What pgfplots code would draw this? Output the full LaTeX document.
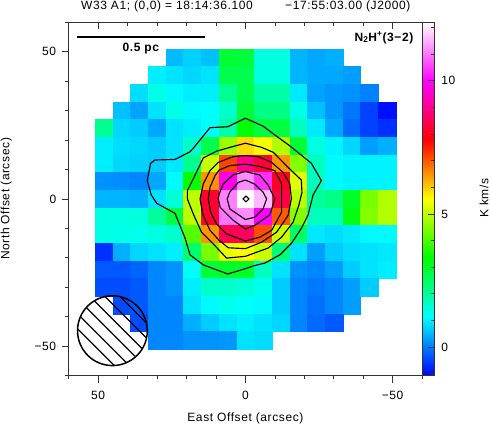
\documentclass[border=0pt]{standalone}
\usepackage{fontspec}
\setmainfont[LetterSpace=5]{Liberation Sans}
\usepackage{pgfplots}
\pgfplotsset{compat=1.18}

\newcommand{\lbl}{\fontsize{12bp}{13bp}\selectfont}

\begin{document}
\begin{tikzpicture}
\useasboundingbox (0,0) rectangle (491bp,425bp);
\begin{axis}[
  at={(68.7bp,49.4bp)}, anchor=south west,
  scale only axis, width=353.4bp, height=353.4bp,
  x dir=reverse,
  xmin=-60, xmax=60, ymin=-60, ymax=60,
  xtick={-50,0,50}, xticklabels={−50,0,50},
  ytick={-50,0,50}, yticklabels={−50,0,50},
  minor xtick={-60,-40,-30,-20,-10,10,20,30,40,60},
  minor ytick={-60,-40,-30,-20,-10,10,20,30,40,60},
  xtick pos=lower, ytick pos=left, tick align=outside,
  major tick length=7bp, minor tick length=3.5bp,
  axis line style={line width=.9bp,black!80},
  every tick/.append style={line width=.7bp,black!80},
  tick label style={font=\lbl},
  xticklabel style={yshift=-5bp},
  yticklabel style={xshift=-2bp},
  label style={font=\lbl},
  xlabel={East Offset (arcsec)},
  ylabel={North Offset (arcsec)},
  xlabel style={yshift=-6bp},
  ylabel style={yshift=16bp},
  colormap={gildas}{rgb=(0,0,1) rgb=(0,1,1) rgb=(0,1,0) rgb=(1,1,0) rgb=(1,0,0) rgb=(1,0,1) rgb=(1,1,1)},
  colormap name=gildas,
  point meta min=-1.07, point meta max=12.2,
  colorbar,
  colorbar shift/.style={xshift=0pt},
  colorbar style={
    at={(parent axis.north east)}, anchor=north west,
    width=12.8bp,
    ytick={0,5,10}, yticklabels={0,5,10},
    minor ytick={-1,1,2,3,4,6,7,8,9,11,12},
    ytick pos=right, yticklabel pos=right, tick align=inside,
    major tick length=7bp, minor tick length=3.5bp,
    yticklabel style={font=\lbl,xshift=3bp},
    axis line style={line width=.9bp,black!80},
  },
]
% integrated intensity map, one line for each declination offset
\addplot[scatter, only marks, mark=square*, mark size=8.84bp,
  mark options={line width=.1pt},
  scatter src=explicit,
  scatter/use mapped color={draw=mapped color,fill=mapped color}]
coordinates {
(24,48)[.55] (18,48)[.75] (12,48)[.6] (6,48)[2.9] (0,48)[2.85] (-6,48)[1.4] (-12,48)[1.4] (-18,48)[.5] (-24,48)[.4] (-30,48)[.45]
(30,42)[1.0] (24,42)[.9] (18,42)[.8] (12,42)[.9] (6,42)[2.7] (0,42)[2.7] (-6,42)[1.4] (-12,42)[1.4] (-18,42)[.5] (-24,42)[.4] (-30,42)[.4] (-36,42)[.3]
(36,36)[.85] (30,36)[1.35] (24,36)[1.1] (18,36)[1.0] (12,36)[1.0] (6,36)[2.1] (0,36)[2.7] (-6,36)[1.9] (-12,36)[1.9] (-18,36)[.95] (-24,36)[.35] (-30,36)[.25] (-36,36)[.2] (-42,36)[.05]
(42,30)[.6] (36,30)[.35] (30,30)[.9] (24,30)[1.35] (18,30)[1.1] (12,30)[1.15] (6,30)[1.6] (0,30)[2.85] (-6,30)[2.2] (-12,30)[2.2] (-18,30)[1.35] (-24,30)[.6] (-30,30)[.25] (-36,30)[-.05] (-42,30)[-.5] (-48,30)[-.95]
(48,24)[2.1] (42,24)[.8] (36,24)[.7] (30,24)[.4] (24,24)[.9] (18,24)[1.0] (12,24)[1.2] (6,24)[1.9] (0,24)[3.3] (-6,24)[2.8] (-12,24)[2.8] (-18,24)[1.7] (-24,24)[.95] (-30,24)[.4] (-36,24)[-.15] (-42,24)[-.5] (-48,24)[-.65]
(48,18)[1.0] (42,18)[.85] (36,18)[.8] (30,18)[.7] (24,18)[.9] (18,18)[1.6] (12,18)[2.7] (6,18)[4.7] (0,18)[5.9] (-6,18)[5.5] (-12,18)[4.9] (-18,18)[2.9] (-24,18)[1.4] (-30,18)[1.05] (-36,18)[.8] (-42,18)[.3] (-48,18)[.45]
(48,12)[1.0] (42,12)[.8] (36,12)[.75] (30,12)[.7] (24,12)[.95] (18,12)[2.1] (12,12)[5.1] (6,12)[7.2] (0,12)[9.0] (-6,12)[8.3] (-12,12)[6.5] (-18,12)[4.5] (-24,12)[1.7] (-30,12)[1.1] (-36,12)[1.05] (-42,12)[1.05] (-48,12)[1.05]
(48,6)[.2] (42,6)[.15] (36,6)[.1] (30,6)[.4] (24,6)[1.1] (18,6)[3.4] (12,6)[6.5] (6,6)[9.8] (0,6)[11.2] (-6,6)[10.4] (-12,6)[8.1] (-18,6)[5.3] (-24,6)[1.7] (-30,6)[1.1] (-36,6)[1.05] (-42,6)[1.05] (-48,6)[1.05]
(48,0)[.5] (42,0)[.5] (36,0)[.45] (30,0)[.9] (24,0)[1.5] (18,0)[5.0] (12,0)[8.2] (6,0)[11.1] (0,0)[12.2] (-6,0)[11.6] (-12,0)[8.4] (-18,0)[5.0] (-24,0)[2.0] (-30,0)[2.2] (-36,0)[3.0] (-42,0)[4.4] (-48,0)[4.9]
(48,-6)[1.4] (42,-6)[1.4] (36,-6)[1.45] (30,-6)[2.0] (24,-6)[2.8] (18,-6)[5.0] (12,-6)[8.2] (6,-6)[11.0] (0,-6)[11.2] (-6,-6)[10.0] (-12,-6)[7.0] (-18,-6)[4.5] (-24,-6)[1.7] (-30,-6)[1.7] (-36,-6)[3.2] (-42,-6)[4.5] (-48,-6)[4.9]
(48,-12)[1.35] (42,-12)[1.35] (36,-12)[1.3] (30,-12)[1.4] (24,-12)[1.6] (18,-12)[4.1] (12,-12)[6.5] (6,-12)[8.5] (0,-12)[8.6] (-6,-12)[7.1] (-12,-12)[5.1] (-18,-12)[2.5] (-24,-12)[.95] (-30,-12)[.85] (-36,-12)[.95] (-42,-12)[1.1] (-48,-12)[1.1]
(48,-18)[-.65] (42,-18)[.45] (36,-18)[.8] (30,-18)[.9] (24,-18)[1.0] (18,-18)[2.4] (12,-18)[4.4] (6,-18)[5.4] (0,-18)[5.6] (-6,-18)[5.1] (-12,-18)[2.3] (-18,-18)[.9] (-24,-18)[.3] (-30,-18)[.7] (-36,-18)[.85] (-42,-18)[.9] (-48,-18)[.95]
(48,-24)[-.3] (42,-24)[-.3] (36,-24)[-.2] (30,-24)[.1] (24,-24)[.2] (18,-24)[1.2] (12,-24)[2.9] (6,-24)[3.0] (0,-24)[3.0] (-6,-24)[1.7] (-12,-24)[.9] (-18,-24)[.2] (-24,-24)[.1] (-30,-24)[.3] (-36,-24)[.7] (-42,-24)[.9] (-48,-24)[1.0]
(48,-30)[-.4] (42,-30)[-.4] (36,-30)[-.3] (30,-30)[.1] (24,-30)[.2] (18,-30)[1.0] (12,-30)[1.6] (6,-30)[1.6] (0,-30)[1.5] (-6,-30)[1.3] (-12,-30)[.7] (-18,-30)[.1] (-24,-30)[0] (-30,-30)[.1] (-36,-30)[.3] (-42,-30)[.7]
(42,-36)[-.4] (36,-36)[-.3] (30,-36)[.1] (24,-36)[.1] (18,-36)[.9] (12,-36)[1.1] (6,-36)[1.3] (0,-36)[1.2] (-6,-36)[1.1] (-12,-36)[.7] (-18,-36)[.1] (-24,-36)[-.1] (-30,-36)[.1] (-36,-36)[.3]
(36,-42)[-.4] (30,-42)[.1] (24,-42)[.1] (18,-42)[.45] (12,-42)[.7] (6,-42)[.9] (0,-42)[1.0] (-6,-42)[.9] (-12,-42)[.8] (-18,-42)[.1] (-24,-42)[-.15] (-30,-42)[-.3]
(30,-48)[.1] (24,-48)[.1] (18,-48)[.2] (12,-48)[.2] (6,-48)[.25] (0,-48)[.9] (-6,-48)[.85]
};
\end{axis}
% second axis on top: contours, beam, labels, and the top ticks, which point inward
\begin{axis}[
  at={(68.7bp,49.4bp)}, anchor=south west,
  scale only axis, width=353.4bp, height=353.4bp,
  x dir=reverse,
  xmin=-60, xmax=60, ymin=-60, ymax=60,
  xtick={-50,0,50}, xticklabels={},
  minor xtick={-60,-40,-30,-20,-10,10,20,30,40,60},
  ytick=\empty,
  xtick pos=upper, tick align=inside,
  major tick length=7bp, minor tick length=3.5bp,
  axis line style={draw=none},
  every tick/.append style={line width=.7bp,black!80},
]
\addplot[black,line width=1.15bp] coordinates {
(0,27.4)(-6,24.7)(-10,21.7)(-15.1,18)(-22.4,12.1)(-25.8,6.2)(-23,1.4)(-21.3,-5.4)(-19,-10)(-15.7,-15)(-11.7,-19)(-6.6,-21.8)(-2.9,-22.7)(0,-23.7)(6,-25.5)(14.3,-22.4)(18.8,-19)(20.5,-13.3)(23.9,-4.9)(30.1,-1.5)(32,1.4)(33.3,6.2)(32.2,12.1)(30.7,13.2)(23.9,13.4)(18.8,16)(17.7,17.2)(12,24.2)(6,24.5)(0,27.4)};
\addplot[black,line width=1.15bp] coordinates {
(0,18.9)(-5.5,17.5)(-9.5,15.8)(-14.5,10.7)(-19,6.4)(-19.2,2.2)(-18.1,-2.3)(-16.2,-7.9)(-12.3,-13)(-7.7,-16.7)(0,-19.5)(6.4,-20.1)(10.9,-15.3)(14.9,-11.3)(17.7,-5.1)(19.7,0)(19.7,2.8)(17.7,6.8)(14.3,13.9)(9.8,16.2)(5.25,17.5)(0,18.9)};
\addplot[black,line width=1.15bp] coordinates {
(0,14.7)(-4.4,14.35)(-8.9,12.4)(-12.8,9)(-15.1,5.1)(-15.6,0)(-14.5,-5.6)(-10.6,-11.3)(-5.5,-14.7)(0,-16.9)(5.8,-16.6)(8.9,-14.1)(12,-10.7)(14.5,-5.1)(15.4,0)(14.3,5.1)(12,9.6)(9.2,12.4)(4.1,14.35)(0,14.7)};
\addplot[black,line width=1.15bp] coordinates {
(0,11.8)(-4.9,11)(-10,9.6)(-12.3,5.1)(-12.3,0)(-12.3,-4.5)(-8.9,-10.7)(-4.9,-13)(0,-14.3)(6.4,-11.9)(9.8,-8.5)(11.8,-4.5)(12.6,0)(12,4)(10.3,7.9)(8.9,9.8)(5.3,11.3)(0,11.8)};
\addplot[black,line width=1.15bp] coordinates {
(0,9.3)(-4.9,8.1)(-7.7,4.7)(-10,0)(-8.3,-5.4)(-3.2,-9)(0,-10.2)(4.1,-7.3)(8.6,-2.8)(9.2,0)(8.9,1.7)(7.5,5.1)(4.1,8.2)(0,9.3)};
\addplot[black,line width=1.15bp] coordinates {
(0,6.4)(-3.2,5)(-6,2.3)(-7.2,0)(-6,-3.4)(-3.2,-6.2)(0,-7)(5.3,-3.4)(6.2,0)(5.3,2.3)(2.4,5.6)(0,6.4)};
\addplot[black,line width=1.15bp] coordinates {
(-.2,1)(-1.2,0)(-.2,-1)(.8,0)(-.2,1)};
% scale bar and line name
\draw[line width=1.5bp] (axis cs:57.1,55) -- (axis cs:13.7,55);
\node[font=\lbl\bfseries] at (axis cs:35.5,51.2) {0.5 pc};
\node[font=\lbl\bfseries,anchor=east] at (axis cs:-58.2,54.7) {N\textsubscript{2}H\textsuperscript{+}(3−2)};
% beam
\draw[line width=1.5bp] (axis cs:45.15,-44.75) circle[radius=34.9bp];
\begin{scope}
\clip (axis cs:45.15,-44.75) circle[radius=34.9bp];
\draw[line width=1.2bp] (axis cs:60,-15.7) -- (axis cs:25,-50.7);
\draw[line width=1.2bp] (axis cs:60,-20.8) -- (axis cs:25,-55.8);
\draw[line width=1.2bp] (axis cs:60,-25.9) -- (axis cs:25,-60.9);
\draw[line width=1.2bp] (axis cs:60,-30.9) -- (axis cs:25,-65.9);
\draw[line width=1.2bp] (axis cs:60,-36) -- (axis cs:25,-71);
\draw[line width=1.2bp] (axis cs:60,-41.1) -- (axis cs:25,-76.1);
\end{scope}
\end{axis}
\node[font=\lbl,anchor=base west,inner sep=0pt] at (81bp,415bp) {W33 A1; (0,0) = 18:14:36.100};
\node[font=\lbl,anchor=base west,inner sep=0pt] at (285bp,415bp) {−17:55:03.00 (J2000)};
\node[font=\lbl,rotate=90] at (484bp,227bp) {K km/s};
\end{tikzpicture}
\end{document}
